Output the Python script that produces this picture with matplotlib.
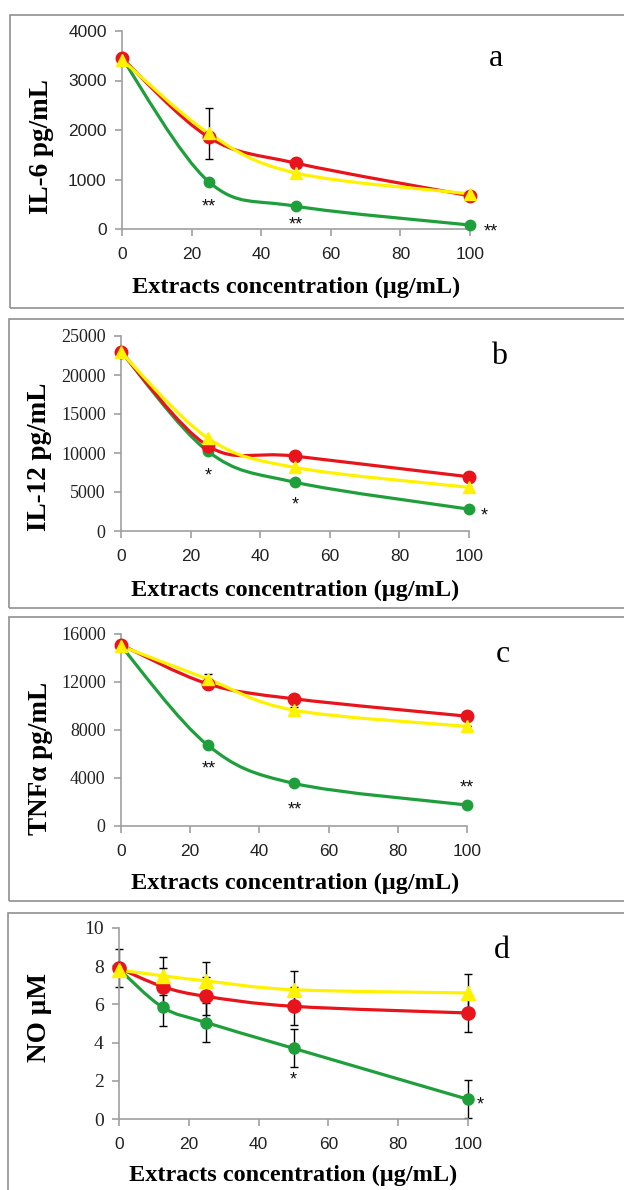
import numpy as np
import matplotlib
matplotlib.use('Agg')
import matplotlib.pyplot as plt
from matplotlib.path import Path
from matplotlib.patches import PathPatch, Rectangle
from matplotlib.transforms import offset_copy

# data
x_main = [0, 25, 50, 100]
x_no = [0, 12.5, 25, 50, 100]

il6_red = [3450, 1850, 1330, 670]
il6_yellow = [3420, 1930, 1130, 710]
il6_green = [3450, 950, 460, 80]
il6_yellow_err = [0, 510, 0, 0]
il6_stars = [(25, 560, '**'), (50, 190, '**'), (106, 55, '**')]

il12_red = [23000, 10900, 9600, 6950]
il12_yellow = [22900, 11900, 8150, 5600]
il12_green = [23000, 10200, 6250, 2800]
il12_stars = [(25, 7700, '*'), (50, 3950, '*'), (104.5, 2650, '*')]

tnf_red = [15100, 11850, 10600, 9150]
tnf_yellow = [15000, 12250, 9650, 8300]
tnf_green = [15000, 6750, 3550, 1750]
tnf_yellow_err = [0, 450, 300, 0]
tnf_stars = [(25.3, 5170, '**'), (50.3, 1800, '**'), (100, 3640, '**')]

no_red = [7.9, 6.93, 6.42, 5.9, 5.55]
no_yellow = [7.8, 7.5, 7.23, 6.77, 6.6]
no_green = [7.85, 5.85, 5.05, 3.7, 1.03]
no_red_err = [1.0, 1.0, 1.0, 1.0, 1.0]
no_yellow_err = [0, 1.0, 1.0, 1.0, 1.0]
no_green_err = [0, 1.0, 1.0, 1.0, 1.0]
no_stars = [(50, 2.3, '*'), (103.6, 1.02, '*')]

RED = '#e8141c'
YELLOW = '#fff200'
GREEN = '#1f9f3c'

W, H = 624, 1190
fig = plt.figure(figsize=(W / 100, H / 100), dpi=100)

SERIF = 'Liberation Serif'
SANS = 'Liberation Sans'


def smooth_path(xs, ys):
    pts = np.column_stack([xs, ys]).astype(float)
    n = len(pts)
    verts = [pts[0]]
    codes = [Path.MOVETO]
    for i in range(n - 1):
        p0 = pts[i - 1] if i > 0 else pts[i]
        p1 = pts[i]
        p2 = pts[i + 1]
        p3 = pts[i + 2] if i + 2 < n else pts[i + 1]
        verts += [p1 + (p2 - p0) / 6, p2 - (p3 - p1) / 6, p2]
        codes += [Path.CURVE4] * 3
    return Path(verts, codes)


def series(ax, xs, ys, color, marker, ms, err=None):
    if err is not None:
        ax.errorbar(xs, ys, yerr=err, fmt='none', ecolor='black', elinewidth=1,
                    capsize=3, capthick=1, zorder=1, clip_on=False)
    ax.add_patch(PathPatch(smooth_path(xs, ys), fill=False, edgecolor=color,
                           lw=2.3, zorder=2, clip_on=False))
    ax.plot(xs, ys, ls='none', marker=marker, ms=ms, color=color,
            markeredgecolor=color, zorder=3, clip_on=False)


def make_axes(left, top, right, bottom):
    ax = fig.add_axes([left / W, 1 - bottom / H, (right - left) / W, (bottom - top) / H])
    for s in ['top', 'right']:
        ax.spines[s].set_visible(False)
    for s in ['left', 'bottom']:
        ax.spines[s].set_color('#a0a0a0')
        ax.spines[s].set_linewidth(1.2)
    ax.tick_params(direction='out', length=5, width=1.2, color='#a0a0a0',
                   labelcolor='#222222', pad=6)
    ax.tick_params(axis='x', pad=8)
    ax.set_xlim(0, 100)
    ax.set_xticks([0, 20, 40, 60, 80, 100])
    for t in ax.get_xticklabels():
        t.set_fontfamily(SANS)
        t.set_fontsize(12.5)
    return ax


def box(left, top, bottom):
    fig.add_artist(Rectangle((left / W, 1 - bottom / H), 1.2, (bottom - top) / H,
                             transform=fig.transFigure, fill=False,
                             edgecolor='#909090', lw=1.2, clip_on=False))


def labels(ax, ylab, ylab_xy, xlab_xy, letter, letter_xy, stars):
    fig.text(ylab_xy[0] / W, 1 - ylab_xy[1] / H, ylab, rotation=90, ha='center',
             va='center', fontfamily=SERIF, fontweight='bold', fontsize=19.5)
    fig.text(xlab_xy[0] / W, 1 - xlab_xy[1] / H, 'Extracts concentration (µg/mL)',
             ha='center', va='center', fontfamily=SERIF, fontweight='bold', fontsize=17.5)
    fig.text(letter_xy[0] / W, 1 - letter_xy[1] / H, letter, ha='center', va='center',
             fontfamily=SERIF, fontsize=23)
    trans = offset_copy(ax.transData, fig=fig, x=0, y=-7, units='points')
    for sx, sy, s in stars:
        ax.text(sx, sy, s, transform=trans, ha='center', va='baseline',
                fontfamily=SANS, fontsize=13, color='#111111')


def yticks(ax, ticks, family, size):
    ax.set_yticks(ticks)
    ax.set_ylim(ticks[0], ticks[-1])
    for t in ax.get_yticklabels():
        t.set_fontfamily(family)
        t.set_fontsize(size)


# panel a
box(10, 15, 308)
ax = make_axes(122, 31, 470, 229)
yticks(ax, [0, 1000, 2000, 3000, 4000], SANS, 12.5)
series(ax, x_main, il6_green, GREEN, 'o', 7.5)
series(ax, x_main, il6_red, RED, 'o', 9)
series(ax, x_main, il6_yellow, YELLOW, '^', 9, il6_yellow_err)
labels(ax, 'IL-6 pg/mL', (42, 147), (296, 287), 'a', (496, 58), il6_stars)

# panel b
box(9, 319, 608)
ax = make_axes(121, 336, 469, 531)
yticks(ax, [0, 5000, 10000, 15000, 20000, 25000], SERIF, 13)
series(ax, x_main, il12_green, GREEN, 'o', 7.5)
series(ax, x_main, il12_red, RED, 'o', 9)
series(ax, x_main, il12_yellow, YELLOW, '^', 9)
labels(ax, 'IL-12 pg/mL', (40, 457), (295, 590), 'b', (499, 357), il12_stars)

# panel c
box(9, 617, 901)
ax = make_axes(121, 634, 467, 826)
yticks(ax, [0, 4000, 8000, 12000, 16000], SERIF, 13)
series(ax, x_main, tnf_green, GREEN, 'o', 7.5)
series(ax, x_main, tnf_red, RED, 'o', 9)
series(ax, x_main, tnf_yellow, YELLOW, '^', 9, tnf_yellow_err)
labels(ax, 'TNFα pg/mL', (41, 758), (295, 883), 'c', (503, 655), tnf_stars)

# panel d
box(8, 913, 1200)
ax = make_axes(119, 928, 468, 1119)
yticks(ax, [0, 2, 4, 6, 8, 10], SERIF, 14)
series(ax, x_no, no_green, GREEN, 'o', 8, no_green_err)
series(ax, x_no, no_red, RED, 'o', 9.5, no_red_err)
series(ax, x_no, no_yellow, YELLOW, '^', 9.5, no_yellow_err)
labels(ax, 'NO µM', (39, 1018), (293, 1175), 'd', (502, 950), no_stars)

fig.savefig('out.png', dpi=100)
